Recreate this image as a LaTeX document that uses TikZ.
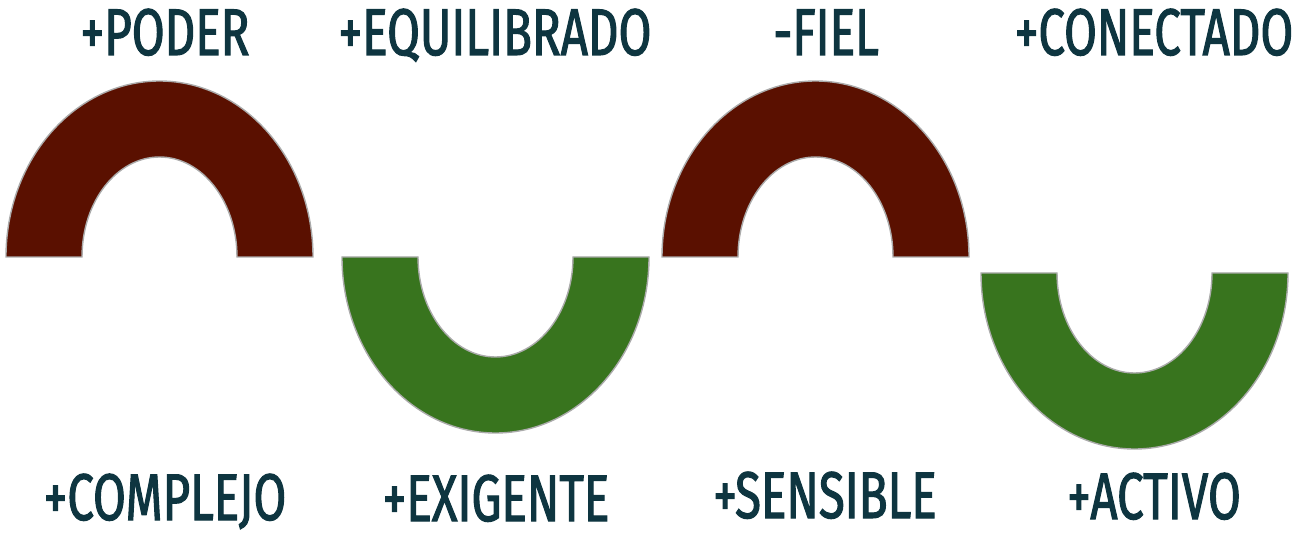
\documentclass[tikz,border=0pt]{standalone}
\usepackage{fontspec}
\setmainfont[FakeStretch=0.72,FakeBold=1.6]{Fira Sans}
\usetikzlibrary{positioning}
\definecolor{ringred}{HTML}{5A1000}
\definecolor{ringgreen}{HTML}{38741E}
\definecolor{wordteal}{HTML}{0E3540}
\definecolor{ringrim}{HTML}{ABABAB}

\begin{document}
\begin{tikzpicture}[x=1pt,y=1pt,
  rim/.style={draw=ringrim,line width=1.4pt},
  word/.style={anchor=base,inner sep=0pt,text=wordteal,font=\fontsize{66}{70}\selectfont}]
\useasboundingbox (0,0) rectangle (1292,536);
% half rings: centre x / base y / up(1) or down(-1) / colour
\foreach \cx/\yb/\s/\col in {159.5/279/1/ringred,495.5/279/-1/ringgreen,815.5/279/1/ringred,1134.5/263/-1/ringgreen}{
  \draw[rim,fill=\col] (\cx-153.5,\yb) arc[start angle=180,end angle={180-180*\s},x radius=153.5,y radius=176]
    -- (\cx+77.5,\yb) arc[start angle=0,end angle={180*\s},x radius=77.5,y radius=100] -- cycle;
}
% labels above
\node[word] (poder) at (165,481) {+PODER};
\node[word] (equilibrado) at (495,481) {+EQUILIBRADO};
\node[word] (fiel) at (826,481) {-FIEL};
\node[word] (conectado) at (1154,481) {+CONECTADO};
% labels below
\node[word] (complejo) at (165,16) {+COMPLEJO};
\node[word] (exigente) at (496,15) {+EXIGENTE};
\node[word] (sensible) at (825,18) {+SENSIBLE};
\node[word] (activo) at (1154,17) {+ACTIVO};
\end{tikzpicture}
\end{document}
